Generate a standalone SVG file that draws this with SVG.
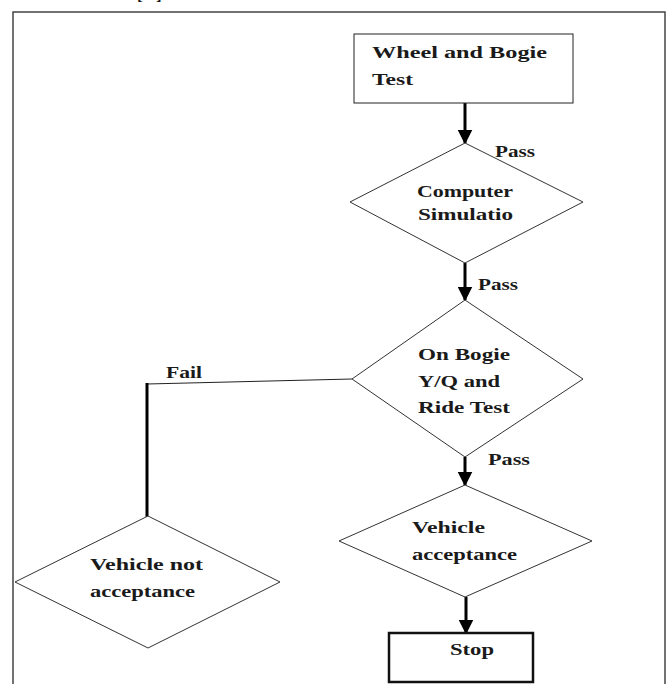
<svg xmlns="http://www.w3.org/2000/svg" width="671" height="684" viewBox="0 0 671 684">
<defs>
<style>
.t{font-family:"Liberation Serif","Times New Roman",serif;font-weight:bold;font-size:17px;fill:#1a1a1a}
.shape{fill:#fff;stroke:#222;stroke-width:1}
.dia{fill:#fff;stroke:#333;stroke-width:1}
.conn{stroke:#000;stroke-width:3;fill:none}
.thin{stroke:#222;stroke-width:1;fill:none}
</style>
<marker id="ah" markerWidth="5" markerHeight="5" refX="4.5" refY="2.5" orient="auto" markerUnits="strokeWidth">
<path d="M0,0 L5,2.5 L0,5 Z" fill="#000"/>
</marker>
</defs>
<rect width="671" height="684" fill="#fff"/>
<text class="t" x="137" y="0">[</text>
<text class="t" x="156" y="0">]</text>
<rect x="13" y="12" width="652" height="690" fill="none" stroke="#444" stroke-width="1.5"/>

<g id="connectors">
<line class="conn" x1="465" y1="103" x2="465" y2="143" marker-end="url(#ah)"/>
<line class="conn" x1="465" y1="263" x2="465" y2="300" marker-end="url(#ah)"/>
<line class="conn" x1="465" y1="457" x2="465" y2="485" marker-end="url(#ah)"/>
<line class="conn" x1="466" y1="597" x2="466" y2="633" marker-end="url(#ah)"/>
<polyline class="thin" points="352,379 147,384"/>
<line class="conn" x1="147" y1="383" x2="147" y2="517"/>
<text class="t" x="495" y="157" textLength="40" lengthAdjust="spacingAndGlyphs">Pass</text>
<text class="t" x="478" y="290" textLength="40" lengthAdjust="spacingAndGlyphs">Pass</text>
<text class="t" x="488" y="465" textLength="42" lengthAdjust="spacingAndGlyphs">Pass</text>
<text class="t" x="166" y="378" textLength="36" lengthAdjust="spacingAndGlyphs">Fail</text>
</g>

<g id="wheel-bogie-test">
<rect class="shape" x="354" y="34" width="219" height="69"/>
<text class="t" x="372" y="58" textLength="175" lengthAdjust="spacingAndGlyphs">Wheel and Bogie</text>
<text class="t" x="372" y="85" textLength="41" lengthAdjust="spacingAndGlyphs">Test</text>
</g>

<g id="computer-simulation">
<polygon class="dia" points="465,143 583,202 465,263 350,202"/>
<text class="t" x="417" y="197" textLength="96" lengthAdjust="spacingAndGlyphs">Computer</text>
<text class="t" x="418" y="220" textLength="95" lengthAdjust="spacingAndGlyphs">Simulatio</text>
</g>

<g id="on-bogie-test">
<polygon class="dia" points="465,300 583,379 465,457 352,379"/>
<text class="t" x="418" y="360" textLength="92" lengthAdjust="spacingAndGlyphs">On Bogie</text>
<text class="t" x="418" y="387" textLength="82" lengthAdjust="spacingAndGlyphs">Y/Q and</text>
<text class="t" x="418" y="413" textLength="92" lengthAdjust="spacingAndGlyphs">Ride Test</text>
</g>

<g id="vehicle-acceptance">
<polygon class="dia" points="465,485 592,541 465,597 339,541"/>
<text class="t" x="412" y="533" textLength="73" lengthAdjust="spacingAndGlyphs">Vehicle</text>
<text class="t" x="412" y="560" textLength="105" lengthAdjust="spacingAndGlyphs">acceptance</text>
</g>

<g id="vehicle-not-acceptance">
<polygon class="dia" points="148,516 280,582 148,648 15,582"/>
<text class="t" x="90" y="570" textLength="113" lengthAdjust="spacingAndGlyphs">Vehicle not</text>
<text class="t" x="90" y="597" textLength="105" lengthAdjust="spacingAndGlyphs">acceptance</text>
</g>

<g id="stop">
<rect x="389" y="633" width="144" height="49" fill="#fff" stroke="#111" stroke-width="2.5"/>
<text class="t" x="450" y="655" textLength="44" lengthAdjust="spacingAndGlyphs">Stop</text>
</g>
</svg>
